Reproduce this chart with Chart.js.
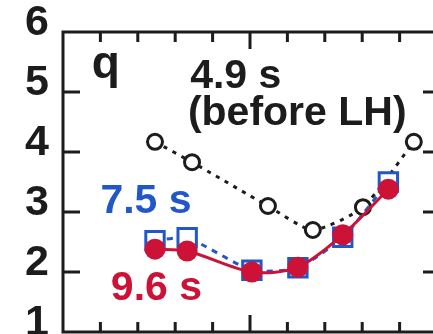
<!DOCTYPE html>
<html>
<head>
<meta charset="utf-8">
<script src="https://cdn.jsdelivr.net/npm/chart.js@4/dist/chart.umd.min.js"></script>
<style>
  html, body { margin: 0; padding: 0; background: #ffffff; overflow: hidden; width: 433px; height: 334px; }
  #wrap { position: absolute; left: 0; top: 0; width: 480px; height: 390px; }
</style>
</head>
<body>
<div id="wrap"><canvas id="c" width="480" height="390"></canvas></div>
<script>
// normalized radius of each measurement
const rho49 = [0.246, 0.345, 0.548, 0.668, 0.802, 0.938];
const rhoH  = [0.246, 0.332, 0.505, 0.628, 0.748, 0.870];

// safety factor profiles
const q49 = [4.17, 3.83, 3.10, 2.70, 3.08, 4.17];   // 4.9 s (before LH)
const q75 = [2.52, 2.57, 2.03, 2.07, 2.58, 3.50];   // 7.5 s
const q96 = [2.38, 2.35, 2.00, 2.08, 2.62, 3.38];   // 9.6 s

// axis ticks
const yTicks = [1, 2, 3, 4, 5, 6];
const xMinorTicks = [0.1, 0.2, 0.3, 0.4, 0.6, 0.7, 0.8, 0.9];
const xMajorTicks = [0.5];

const INK = '#1c1c1c';
const BLUE = '#2257c9';
const RED = '#cc1236';

const pts = (xs, ys) => xs.map((x, i) => ({ x, y: ys[i] }));

// text annotations: [text, x value, y value (baseline), colour, size]
const notes = [
  ['q', 0.077, 5.24, INK, 46],
  ['4.9 s', 0.340, 5.07, INK, 41],
  ['(before LH)', 0.334, 4.45, INK, 41],
  ['7.5 s', 0.100, 2.98, BLUE, 41],
  ['9.6 s', 0.128, 1.53, RED, 41]
];

const framePlugin = {
  id: 'frame',
  afterDatasetsDraw(chart) {
    const { ctx, chartArea: a, scales: { x, y } } = chart;
    ctx.save();
    ctx.strokeStyle = INK;
    ctx.lineWidth = 3;
    ctx.lineCap = 'butt';
    ctx.strokeRect(a.left, a.top, a.right - a.left, a.bottom - a.top);
    ctx.beginPath();
    const xt = (v, len) => {
      const px = x.getPixelForValue(v);
      ctx.moveTo(px, a.top); ctx.lineTo(px, a.top + len);
      ctx.moveTo(px, a.bottom); ctx.lineTo(px, a.bottom - len);
    };
    xMinorTicks.forEach(v => xt(v, 10));
    xMajorTicks.forEach(v => xt(v, 17));
    yTicks.slice(1, -1).forEach(v => {
      const py = y.getPixelForValue(v);
      ctx.moveTo(a.left, py); ctx.lineTo(a.left + 17, py);
      ctx.moveTo(a.right, py); ctx.lineTo(a.right - 14, py);
    });
    ctx.stroke();

    ctx.textBaseline = 'alphabetic';
    ctx.textAlign = 'left';
    notes.forEach(([t, vx, vy, col, size]) => {
      ctx.fillStyle = col;
      ctx.font = `bold ${size}px "Liberation Sans", Arial, sans-serif`;
      ctx.fillText(t, x.getPixelForValue(vx), y.getPixelForValue(vy));
    });
    ctx.restore();
  }
};

new Chart(document.getElementById('c'), {
  type: 'scatter',
  data: {
    datasets: [
      {
        label: '9.6 s',
        data: pts(rhoH, q96),
        showLine: true,
        borderColor: RED,
        backgroundColor: RED,
        borderWidth: 3,
        tension: 0.3,
        pointStyle: 'circle',
        pointRadius: 10.5,
        pointBorderWidth: 0,
        pointBackgroundColor: RED,
        order: 0
      },
      {
        label: '7.5 s',
        data: pts(rhoH, q75),
        showLine: true,
        borderColor: BLUE,
        borderWidth: 3,
        borderDash: [6, 6],
        tension: 0.2,
        pointStyle: 'rect',
        pointRadius: 13,
        pointBorderWidth: 3,
        pointBorderColor: BLUE,
        pointBackgroundColor: '#ffffff',
        order: 1
      },
      {
        label: '4.9 s',
        data: pts(rho49, q49),
        showLine: true,
        borderColor: INK,
        borderWidth: 3,
        borderDash: [4, 6],
        tension: 0.2,
        pointStyle: 'circle',
        pointRadius: 7.5,
        pointBorderWidth: 3,
        pointBorderColor: INK,
        pointBackgroundColor: '#ffffff',
        order: 2
      }
    ]
  },
  options: {
    responsive: false,
    animation: false,
    events: [],
    layout: { padding: { left: 0, top: 32, right: 43, bottom: 58 } },
    plugins: { legend: { display: false }, tooltip: { enabled: false } },
    scales: {
      x: { type: 'linear', min: 0, max: 1, display: false },
      y: {
        type: 'linear', min: 1, max: 6,
        afterFit(scale) { scale.width = 63; },
        afterBuildTicks(scale) { scale.ticks = yTicks.map(v => ({ value: v })); },
        grid: { display: false, drawTicks: false },
        border: { display: false },
        ticks: {
          padding: 14,
          color: INK,
          // a blank second line lifts each number slightly above its tick
          callback: v => [String(v), ''],
          font: { family: '"Liberation Sans", Arial, sans-serif', size: 43, weight: 'bold', lineHeight: 0.4 }
        }
      }
    }
  },
  plugins: [framePlugin]
});
</script>
</body>
</html>
